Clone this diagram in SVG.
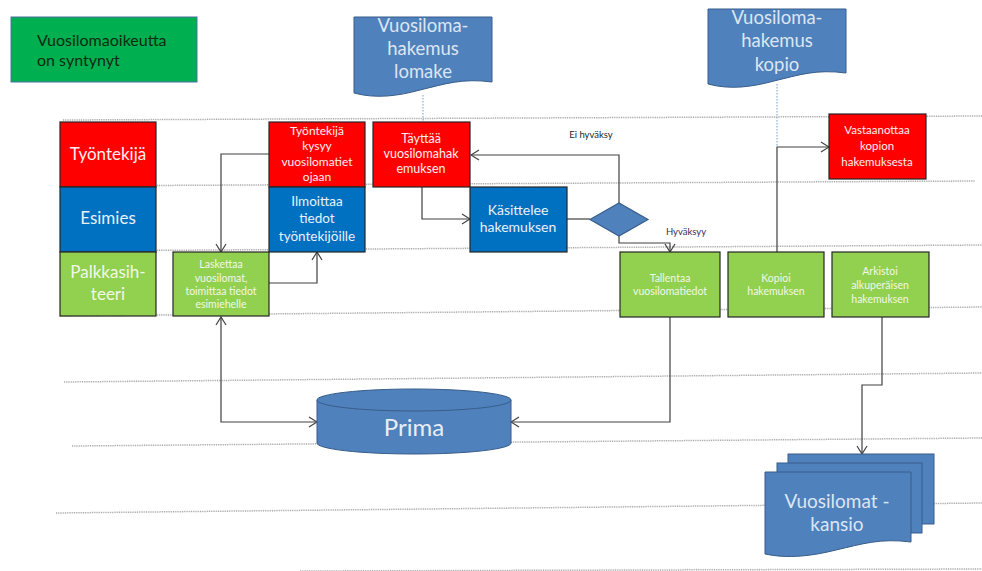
<svg xmlns="http://www.w3.org/2000/svg" width="982" height="571" viewBox="0 0 982 571">
  <style>
    text { font-family: Lato, "Liberation Sans", sans-serif; text-anchor: middle; }
    .lane { stroke: #A8A8A8; stroke-width: 1.5; stroke-dasharray: 1 0.8; fill: none; }
    .red { fill: #FF0000; stroke: #262626; stroke-width: 1.2; }
    .blue { fill: #0070C0; stroke: #262626; stroke-width: 1.2; }
    .green { fill: #92D050; stroke: #262626; stroke-width: 1.2; }
    .doc { fill: #4F81BD; stroke: #385D8A; stroke-width: 1; }
    .tw { fill: #FFF0F0; }
    .tb { fill: #EAF1FA; }
    .tg { fill: #F1F8E6; }
    .td { fill: #DCE6F2; }
    .conn { fill: none; stroke: #404040; stroke-width: 1.2; }
    .dot { fill: none; stroke: #8EB0D8; stroke-width: 1.2; stroke-dasharray: 1.5 1.5; }
  </style>
  <defs>
    <marker id="arr" viewBox="0 0 10 12" refX="9" refY="6" markerWidth="10" markerHeight="12" markerUnits="userSpaceOnUse" orient="auto-start-reverse">
      <path d="M1,1 L9,6 L1,11" fill="none" stroke="#404040" stroke-width="1.2"/>
    </marker>
  </defs>

  <!-- swimlane separators -->
  <g id="lanes">
    <line class="lane" x1="63" y1="120" x2="982" y2="116"/>
    <line class="lane" x1="60" y1="186" x2="975" y2="181"/>
    <line class="lane" x1="60" y1="251" x2="982" y2="245"/>
    <line class="lane" x1="60" y1="316" x2="982" y2="307"/>
    <line class="lane" x1="64" y1="382" x2="982" y2="373"/>
    <line class="lane" x1="72" y1="446" x2="982" y2="438"/>
    <line class="lane" x1="56" y1="513" x2="982" y2="503"/>
    <line class="lane" x1="300" y1="571" x2="982" y2="569"/>
  </g>

  <!-- connectors -->
  <g id="connectors">
    <line class="dot" x1="423" y1="95" x2="423" y2="122"/>
    <line class="dot" x1="777" y1="84" x2="777" y2="147"/>
    <polyline class="conn" points="269,154 221,154 221,252" marker-end="url(#arr)"/>
    <polyline class="conn" points="269,283 317,283 317,252" marker-end="url(#arr)"/>
    <polyline class="conn" points="422,187 422,219 470,219" marker-end="url(#arr)"/>
    <line class="conn" x1="567" y1="219" x2="590" y2="219"/>
    <polyline class="conn" points="619,203 619,155 471,155" marker-end="url(#arr)"/>
    <polyline class="conn" points="619,236 619,243 670,243 670,252" marker-end="url(#arr)"/>
    <polyline class="conn" points="777,252 777,147 829,147" marker-end="url(#arr)"/>
    <polyline class="conn" points="221,317 221,422 317,422" marker-start="url(#arr)" marker-end="url(#arr)"/>
    <polyline class="conn" points="670,317 670,422 511,422" marker-end="url(#arr)"/>
    <polyline class="conn" points="882,317 882,385 862,385 862,454" marker-end="url(#arr)"/>
    <text x="591" y="138" font-size="9.5" fill="#262626">Ei hyväksy</text>
    <text x="686" y="235" font-size="9.5" fill="#3F2A5C">Hyväksyy</text>
  </g>

  <!-- start marker -->
  <g id="start">
    <rect x="11" y="17" width="186" height="65" fill="#00B050" stroke="#4F6FA8" stroke-width="1"/>
    <text x="37" y="46" font-size="16" fill="#0D2A12" style="text-anchor:start">Vuosilomaoikeutta</text>
    <text x="37" y="66" font-size="16" fill="#0D2A12" style="text-anchor:start">on syntynyt</text>
  </g>

  <!-- lane headers -->
  <g id="lane-tyontekija">
    <rect class="red" x="60" y="122" width="96" height="65"/>
    <text class="tw" x="108" y="160" font-size="17">Työntekijä</text>
  </g>
  <g id="lane-esimies">
    <rect class="blue" x="60" y="187" width="96" height="65"/>
    <text class="tb" x="108" y="224" font-size="17">Esimies</text>
  </g>
  <g id="lane-palkkasihteeri">
    <rect class="green" x="60" y="252" width="96" height="64"/>
    <text class="tg" x="108" y="278" font-size="17">Palkkasih-</text>
    <text class="tg" x="108" y="300" font-size="17">teeri</text>
  </g>

  <!-- process steps -->
  <g id="kysyy">
    <rect class="red" x="269" y="122" width="96" height="65"/>
    <text class="tw" x="317" y="135" font-size="12">Työntekijä</text>
    <text class="tw" x="317" y="150" font-size="12">kysyy</text>
    <text class="tw" x="317" y="166" font-size="12">vuosilomatiet</text>
    <text class="tw" x="317" y="181" font-size="12">ojaan</text>
  </g>
  <g id="ilmoittaa">
    <rect class="blue" x="269" y="187" width="96" height="65"/>
    <text class="tb" x="317" y="206" font-size="13.5">Ilmoittaa</text>
    <text class="tb" x="317" y="223" font-size="13.5">tiedot</text>
    <text class="tb" x="317" y="241" font-size="13.5">työntekijöille</text>
  </g>
  <g id="laskettaa">
    <rect class="green" x="173" y="252" width="96" height="64"/>
    <text class="tg" x="221" y="268" font-size="10.5">Laskettaa</text>
    <text class="tg" x="221" y="282" font-size="10.5">vuosilomat,</text>
    <text class="tg" x="221" y="295" font-size="10.5">toimittaa tiedot</text>
    <text class="tg" x="221" y="308" font-size="10.5">esimiehelle</text>
  </g>
  <g id="tayttaa">
    <rect class="red" x="373" y="122" width="97" height="65"/>
    <text class="tw" x="421" y="143" font-size="12.5">Täyttää</text>
    <text class="tw" x="421" y="158" font-size="12.5">vuosilomahak</text>
    <text class="tw" x="421" y="173" font-size="12.5">emuksen</text>
  </g>
  <g id="kasittelee">
    <rect class="blue" x="470" y="187" width="97" height="65"/>
    <text class="tb" x="518" y="215" font-size="14">Käsittelee</text>
    <text class="tb" x="518" y="232" font-size="14">hakemuksen</text>
  </g>
  <g id="paatos">
    <polygon points="590,219.5 619,203 648,219.5 619,236" fill="#4F81BD" stroke="#385D8A" stroke-width="1.2"/>
  </g>
  <g id="tallentaa">
    <rect class="green" x="620" y="252" width="100" height="65"/>
    <text class="tg" x="670" y="282" font-size="10.5">Tallentaa</text>
    <text class="tg" x="670" y="295" font-size="10.5">vuosilomatiedot</text>
  </g>
  <g id="kopioi">
    <rect class="green" x="728" y="252" width="96" height="65"/>
    <text class="tg" x="776" y="282" font-size="10.5">Kopioi</text>
    <text class="tg" x="776" y="295" font-size="10.5">hakemuksen</text>
  </g>
  <g id="arkistoi">
    <rect class="green" x="832" y="252" width="97" height="65"/>
    <text class="tg" x="880" y="275" font-size="10.5">Arkistoi</text>
    <text class="tg" x="880" y="289" font-size="10.5">alkuperäisen</text>
    <text class="tg" x="880" y="303" font-size="10.5">hakemuksen</text>
  </g>
  <g id="vastaanottaa">
    <rect class="red" x="829" y="114" width="97" height="65"/>
    <text class="tw" x="877" y="134" font-size="11.5">Vastaanottaa</text>
    <text class="tw" x="877" y="150" font-size="11.5">kopion</text>
    <text class="tw" x="877" y="166" font-size="11.5">hakemuksesta</text>
  </g>

  <!-- documents -->
  <g id="lomake">
    <path class="doc" d="M354,17 H492 V82 C462,78 445,84 420,90 C398,96 376,99 354,93 Z"/>
    <text class="td" x="423" y="32" font-size="18.5">Vuosiloma-</text>
    <text class="td" x="423" y="55" font-size="18.5">hakemus</text>
    <text class="td" x="423" y="78" font-size="18.5">lomake</text>
  </g>
  <g id="kopio">
    <path class="doc" d="M708,9 H846 V73 C816,69 799,75 774,81 C752,87 730,90 708,84 Z"/>
    <text class="td" x="777" y="24" font-size="18.5">Vuosiloma-</text>
    <text class="td" x="777" y="47" font-size="18.5">hakemus</text>
    <text class="td" x="777" y="71" font-size="18.5">kopio</text>
  </g>
  <g id="kansio">
    <rect class="doc" x="788" y="454" width="146" height="70"/>
    <rect class="doc" x="777" y="463" width="145" height="70"/>
    <path class="doc" d="M765,472 H911 V542 C880,538 862,544 836,550 C812,556 788,559 765,554 Z"/>
    <text class="td" x="837" y="508" font-size="19">Vuosilomat -</text>
    <text class="td" x="837" y="531" font-size="19">kansio</text>
  </g>

  <!-- database -->
  <g id="prima">
    <path d="M317,400 V443 A97,11 0 0 0 511,443 V400 Z" fill="#4F81BD" stroke="#385D8A" stroke-width="1"/>
    <ellipse cx="414" cy="400" rx="97" ry="11" fill="#4F81BD" stroke="#385D8A" stroke-width="1"/>
    <text x="414" y="436" font-size="24" fill="#E8EEF7">Prima</text>
  </g>
</svg>
